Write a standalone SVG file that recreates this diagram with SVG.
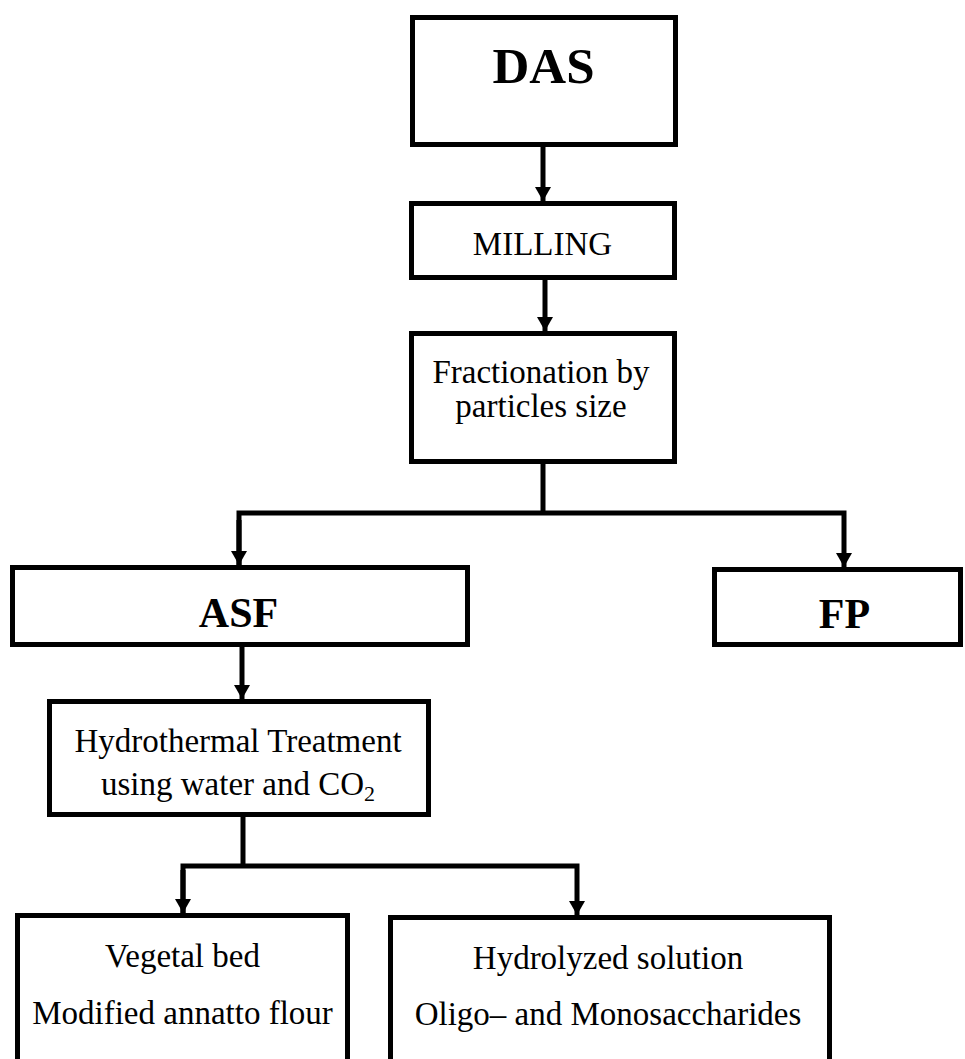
<svg xmlns="http://www.w3.org/2000/svg" width="965" height="1059" viewBox="0 0 965 1059">
<style>
.box{fill:#fff;stroke:#000;stroke-width:5}
.t{font-family:"Liberation Serif","Times New Roman",serif;font-size:33px;fill:#000;text-anchor:middle}
.b{font-family:"Liberation Serif","Times New Roman",serif;font-weight:bold;fill:#000;text-anchor:middle}
.c{fill:none;stroke:#000;stroke-width:5;stroke-linejoin:miter}
</style>
<defs>
<marker id="ah" markerUnits="userSpaceOnUse" markerWidth="16" markerHeight="16" refX="14" refY="8" orient="auto" viewBox="0 0 16 16">
<path d="M0,0 L14,8 L0,16 z" fill="#000"/>
</marker>
</defs>
<rect width="965" height="1059" fill="#fff"/>
<g id="connectors">
<line class="c" x1="543" y1="147" x2="543" y2="201" marker-end="url(#ah)"/>
<line class="c" x1="545" y1="280" x2="545" y2="331" marker-end="url(#ah)"/>
<line class="c" x1="543" y1="464" x2="543" y2="513"/>
<polyline class="c" points="239,565 239,513 844,513 844,567" marker-end="url(#ah)"/>
<line class="c" x1="239" y1="520" x2="239" y2="565" marker-end="url(#ah)"/>
<line class="c" x1="242" y1="647" x2="242" y2="699" marker-end="url(#ah)"/>
<line class="c" x1="243" y1="817" x2="243" y2="866"/>
<polyline class="c" points="183,913 183,866 577,866 577,915" marker-end="url(#ah)"/>
<line class="c" x1="183" y1="870" x2="183" y2="913" marker-end="url(#ah)"/>
</g>
<g id="das">
<rect class="box" x="412.5" y="17.5" width="263" height="127"/>
<text class="b" x="543.5" y="83" font-size="51">DAS</text>
</g>
<g id="milling">
<rect class="box" x="411.5" y="203.5" width="263" height="74"/>
<text class="t" x="542.5" y="255">MILLING</text>
</g>
<g id="fractionation">
<rect class="box" x="411.5" y="333.5" width="263" height="128"/>
<text class="t" x="541" y="383">Fractionation by</text>
<text class="t" x="541" y="417">particles size</text>
</g>
<g id="asf">
<rect class="box" x="12.5" y="567.5" width="455" height="77"/>
<text class="b" x="238.5" y="627" font-size="42">ASF</text>
</g>
<g id="fp">
<rect class="box" x="714.5" y="569.5" width="246" height="75"/>
<text class="b" x="844.5" y="628" font-size="42">FP</text>
</g>
<g id="hydrothermal">
<rect class="box" x="49.5" y="701.5" width="379" height="113"/>
<text class="t" x="238" y="752">Hydrothermal Treatment</text>
<text class="t" x="238" y="795">using water and CO<tspan font-size="22" dy="6">2</tspan></text>
</g>
<g id="vegetal">
<rect class="box" x="17.5" y="915.5" width="330" height="200"/>
<text class="t" x="182.5" y="967">Vegetal bed</text>
<text class="t" x="182.5" y="1024">Modified annatto flour</text>
</g>
<g id="hydrolyzed">
<rect class="box" x="390.5" y="917.5" width="439" height="200"/>
<text class="t" x="608" y="969">Hydrolyzed solution</text>
<text class="t" x="608" y="1025">Oligo– and Monosaccharides</text>
</g>
</svg>
